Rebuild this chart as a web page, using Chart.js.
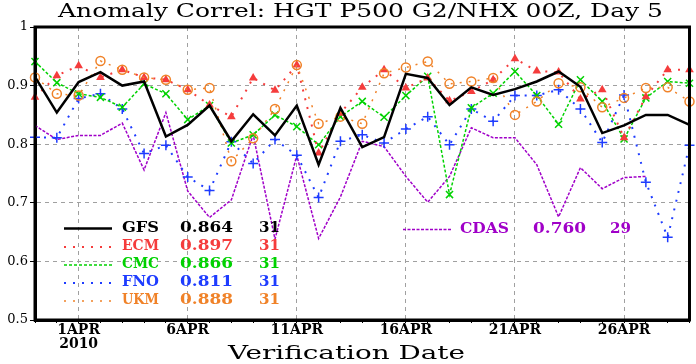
<!DOCTYPE html>
<html><head><meta charset="utf-8">
<script src="https://cdn.jsdelivr.net/npm/chart.js@4.4.1/dist/chart.umd.min.js"></script>
<style>html,body{margin:0;padding:0;background:#fff;}#wrap{width:696px;height:364px;}</style>
</head><body><div id="wrap"><canvas id="c" width="696" height="364"></canvas></div>
<script>
// ---- data ----
const dates = ['30MAR','31MAR','1APR','2APR','3APR','4APR','5APR','6APR','7APR','8APR','9APR','10APR',
  '11APR','12APR','13APR','14APR','15APR','16APR','17APR','18APR','19APR','20APR','21APR','22APR',
  '23APR','24APR','25APR','26APR','27APR','28APR','29APR'];
const tickLabels = ['1APR','6APR','11APR','16APR','21APR','26APR'];
const yearLabel = '2010';
const yTickLabels = ['0.5','0.6','0.7','0.8','0.9','1'];
const titleText = 'Anomaly Correl: HGT P500 G2/NHX 00Z, Day 5';
const xTitle = 'Verification Date';

const gfs  = [0.915,0.854,0.906,0.923,0.900,0.907,0.813,0.833,0.866,0.805,0.851,0.815,0.866,0.765,0.862,0.795,0.812,0.920,0.913,0.867,0.897,0.884,0.894,0.907,0.924,0.898,0.819,0.832,0.850,0.850,0.833];
const ecm  = [0.880,0.917,0.934,0.914,0.927,0.914,0.910,0.893,0.867,0.847,0.913,0.892,0.935,0.785,0.853,0.897,0.927,0.896,0.913,0.874,0.890,0.910,0.946,0.925,0.923,0.877,0.893,0.811,0.881,0.927,0.927];
const cmc  = [0.941,0.905,0.886,0.880,0.863,0.903,0.886,0.842,0.866,0.802,0.816,0.850,0.830,0.799,0.847,0.873,0.846,0.883,0.916,0.714,0.862,0.887,0.924,0.883,0.834,0.910,0.873,0.809,0.879,0.907,0.904];
const fno  = [0.812,0.811,0.878,0.886,0.860,0.784,0.798,0.744,0.721,0.804,0.767,0.808,0.781,0.709,0.805,0.816,0.802,0.826,0.847,0.799,0.860,0.839,0.883,0.883,0.893,0.860,0.803,0.884,0.735,0.641,0.798];
const ukm  = [0.914,0.886,0.883,0.942,0.927,0.914,0.910,0.893,0.896,0.771,0.810,0.860,0.935,0.835,0.847,0.835,0.921,0.931,0.941,0.903,0.907,0.913,0.850,0.873,0.904,0.897,0.863,0.879,0.896,0.897,0.873];
const cdas = [0.832,0.808,0.815,0.815,0.836,0.756,0.854,0.720,0.675,0.705,0.816,0.638,0.781,0.639,0.710,0.805,0.796,0.745,0.701,0.745,0.828,0.811,0.811,0.765,0.676,0.760,0.724,0.743,0.745];

const seriesNames  = ['GFS','ECM','CMC','FNO','UKM','CDAS'];
const seriesMeans  = ['0.864','0.897','0.866','0.811','0.888','0.760'];
const seriesCounts = ['31','31','31','31','31','29'];

// ---- chart ----
const SERIF = '"DejaVu Serif", serif';
const cRed = '#f53c3c', cGreen = '#00d200', cBlue = '#1e3cff', cOrange = '#f08228', cPurple = '#a000c8';

// draw text stretched horizontally to a given width (left aligned)
function fitText(ctx, text, x, y, width) {
  ctx.textAlign = 'left';
  const w0 = ctx.measureText(text).width;
  ctx.save(); ctx.translate(x, y); ctx.scale(width / w0, 1); ctx.fillText(text, 0, 0); ctx.restore();
}

const decor = {
  id: 'decor',
  afterDatasetsDraw(chart) {
    const ctx = chart.ctx, a = chart.chartArea;
    ctx.save();
    // frame
    ctx.strokeStyle = '#000'; ctx.lineWidth = 3; ctx.setLineDash([]);
    ctx.strokeRect(a.left, a.top, a.right - a.left, a.bottom - a.top);
    // legend
    const rows = [228, 246.5, 264.5, 282.5, 300.5];
    const ds = chart.data.datasets;
    ctx.textBaseline = 'middle';
    ctx.font = 'bold 14px ' + SERIF;
    for (let i = 0; i < 6; i++) {
      const d = ds[i];
      let y, lx0, lx1, nx, vx, cx;
      if (i < 5) { y = rows[i]; lx0 = 64; lx1 = 112; nx = 122; vx = 180; cx = 259; }
      else { y = 229; lx0 = 403; lx1 = 451; nx = 460; vx = 533; cx = 610; }
      ctx.strokeStyle = d.borderColor; ctx.lineWidth = d.borderWidth;
      ctx.setLineDash(d.legendDash || d.borderDash || []);
      ctx.beginPath(); ctx.moveTo(lx0, y + 0.5); ctx.lineTo(lx1, y + 0.5); ctx.stroke();
      ctx.setLineDash([]);
      ctx.fillStyle = d.borderColor;
      const nameW = seriesNames[i].length === 4 ? 49 : 37;
      fitText(ctx, seriesNames[i], nx, y, nameW);
      fitText(ctx, seriesMeans[i], vx, y, 53);
      fitText(ctx, seriesCounts[i], cx, y, 21);
    }
    ctx.restore();
  },
  afterDraw(chart) {
    const ctx = chart.ctx;
    ctx.save();
    ctx.fillStyle = '#000';
    ctx.textBaseline = 'middle';
    ctx.font = '19px ' + SERIF;
    fitText(ctx, titleText, 58, 12, 605);
    ctx.font = '18px ' + SERIF;
    fitText(ctx, xTitle, 228, 354, 237);
    ctx.restore();
  }
};

const gridGrey = '#a0a0a0';
new Chart(document.getElementById('c'), {
  type: 'line',
  data: {
    labels: dates,
    datasets: [
      { label: 'GFS', data: gfs, borderColor: '#000', borderWidth: 2.5, pointRadius: 0, order: 0 },
      { label: 'ECM', data: ecm, borderColor: cRed, backgroundColor: cRed, borderWidth: 2, borderDash: [2, 7], legendDash: [2, 7],
        pointStyle: 'triangle', pointRadius: 5, pointBorderWidth: 0, pointBackgroundColor: cRed, order: 2 },
      { label: 'CMC', data: cmc, borderColor: cGreen, borderWidth: 1.5, borderDash: [3, 2], legendDash: [3, 2],
        pointStyle: 'crossRot', pointRadius: 5, pointBorderWidth: 1.5, pointBorderColor: cGreen, order: 3 },
      { label: 'FNO', data: fno, borderColor: cBlue, borderWidth: 2, borderDash: [2, 7], legendDash: [2, 7],
        pointStyle: 'cross', pointRadius: 5, pointBorderWidth: 1.5, pointBorderColor: cBlue, order: 4 },
      { label: 'UKM', data: ukm, borderColor: cOrange, borderWidth: 1.5, borderDash: [2, 7], legendDash: [2, 7],
        pointStyle: 'circle', pointRadius: 4.5, pointBorderWidth: 1.5, pointBorderColor: cOrange, pointBackgroundColor: 'rgba(0,0,0,0)', order: 1 },
      { label: 'CDAS', data: cdas, borderColor: cPurple, borderWidth: 1.5, borderDash: [3, 1.5], legendDash: [3, 1.5], pointRadius: 0, order: 5 }
    ]
  },
  options: {
    responsive: false, animation: false, devicePixelRatio: 1,
    layout: { padding: { top: 27, right: 4, left: 0, bottom: 0 } },
    plugins: { legend: { display: false }, tooltip: { enabled: false }, title: { display: false } },
    elements: { line: { tension: 0, fill: false } },
    scales: {
      x: {
        type: 'category', offset: false,
        afterFit(s) { s.height = 44; },
        grid: {
          color: (c) => tickLabels.includes(dates[c.index]) ? gridGrey : 'rgba(0,0,0,0)',
          tickColor: '#000', tickLength: 3, lineWidth: 1, drawOnChartArea: true
        },
        border: { display: true, color: '#000', width: 3, dash: [4, 4] },
        ticks: {
          autoSkip: false, maxRotation: 0, minRotation: 0, padding: 0, color: '#000',
          font: { family: SERIF, size: 14, weight: 'bold', lineHeight: 1.0 },
          callback: function (v, i) {
            const l = dates[i];
            if (!tickLabels.includes(l)) return '';
            return l === tickLabels[0] ? [l, yearLabel] : l;
          }
        }
      },
      y: {
        min: 0.5, max: 1,
        afterFit(s) { s.width = 35; },
        grid: {
          color: (c) => (c.index === 0 || c.index === 5) ? 'rgba(0,0,0,0)' : gridGrey,
          tickColor: '#000', tickLength: 5, lineWidth: 1
        },
        border: { display: true, color: '#000', width: 3, dash: [4, 4] },
        ticks: {
          stepSize: 0.1, padding: 2, color: '#000',
          font: { family: SERIF, size: 13 },
          callback: (v) => yTickLabels[Math.round((v - 0.5) * 10)]
        }
      }
    }
  },
  plugins: [decor]
});
</script></body></html>
